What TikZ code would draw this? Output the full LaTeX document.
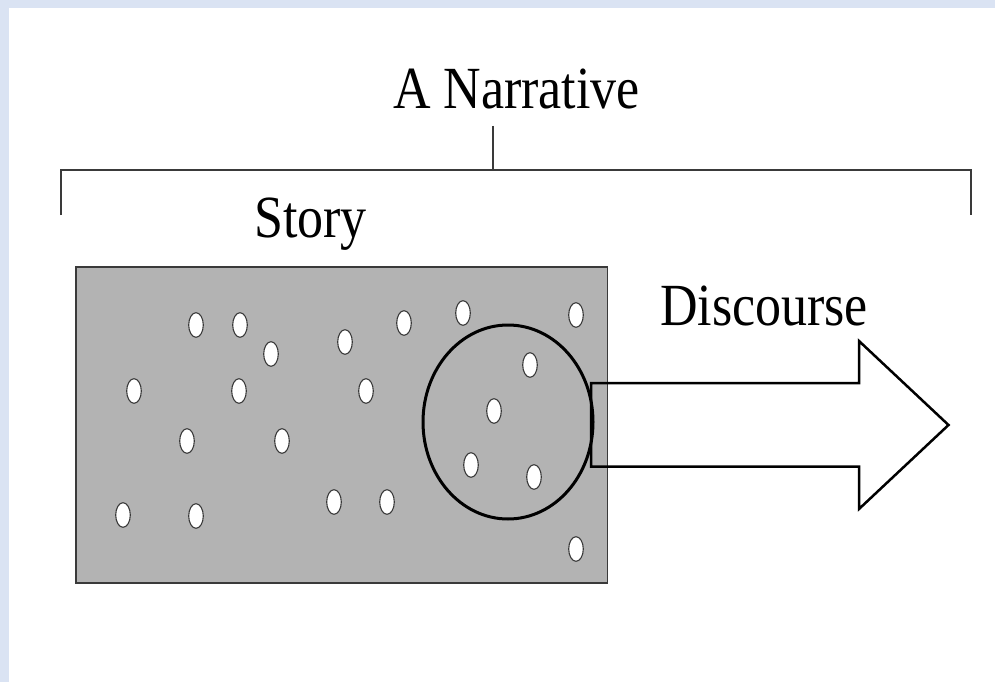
\documentclass[tikz,border=0pt]{standalone}
\usepackage{fontspec}
\setmainfont{Liberation Serif}
\definecolor{framebg}{HTML}{DAE3F3}
\definecolor{boxgray}{HTML}{B3B3B3}
\definecolor{edgegray}{HTML}{3A3A3A}
\tikzset{
  bigtext/.style={anchor=base, inner sep=0pt, font=\fontsize{52}{60}\selectfont},
  bracketline/.style={draw=edgegray, line width=1.5pt},
  dotshape/.style={fill=white, draw=edgegray, line width=1.1pt},
}
\newcommand{\tallify}[1]{\scalebox{1}[1.15]{#1}}
\begin{document}
\begin{tikzpicture}[x=1pt,y=-1pt]
\useasboundingbox (0,0) rectangle (995,682);
\fill[white] (0,0) rectangle (995,682);
\fill[framebg] (0,0) rectangle (995,8.5);
\fill[framebg] (0,0) rectangle (8.5,682);

% titles
\node[bigtext] (narr) at (516.5,109) {\tallify{A Narrative}};
\node[bigtext] (story) at (310.5,237) {\tallify{Story}};
\node[bigtext] (disc) at (764,325) {\tallify{Discourse}};

% bracket
\coordinate (bl) at (61,215);
\coordinate (blt) at (61,170);
\coordinate (brt) at (971,170);
\coordinate (br) at (971,215);
\coordinate (tick) at (493,126);
\coordinate (tickb) at (493,170);
\draw[bracketline] (bl) -- (blt) -- (brt) -- (br);
\draw[bracketline] (tick) -- (tickb);

% story box
\draw[fill=boxgray, draw=edgegray, line width=1.5pt] (76,267) rectangle (607.5,583);

% dots
\foreach \px/\py in {196/325, 240/325, 271/354, 345/342, 404/323, 463/313, 576/315,
  134/391, 239/391, 366/391, 530/365, 187/441, 282/441, 494/411, 471/465, 534/477,
  123/515, 196/516, 334/502, 387/502, 576/549}
  \draw[dotshape] (\px,\py) ellipse [x radius=7.3, y radius=12.3];

% selection circle
\draw[black, line width=3pt] (508,422) ellipse [x radius=85, y radius=97];

% arrow
\draw[black, line width=2.5pt, line join=miter]
  (591,383) -- (859,383) -- (859,341) -- (948.5,425) -- (859,509) -- (859,466.5) -- (591,466.5) -- cycle;
\end{tikzpicture}
\end{document}
